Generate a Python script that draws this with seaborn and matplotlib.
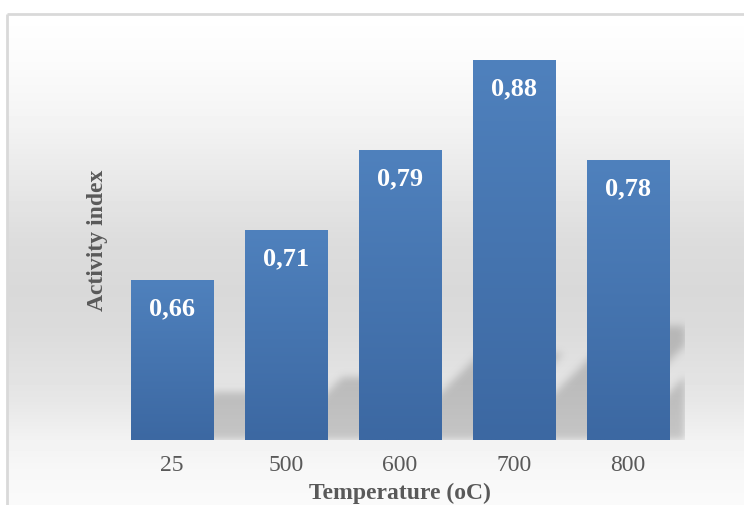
import numpy as np
import pandas as pd
import matplotlib
matplotlib.use("Agg")
import matplotlib.pyplot as plt
import seaborn as sns
from matplotlib.colors import LinearSegmentedColormap

# Data
temperatures = ["25", "500", "600", "700", "800"]
activity = [0.66, 0.71, 0.79, 0.88, 0.78]

df = pd.DataFrame({"Temperature": temperatures, "Activity": activity})

sns.set_theme(style="white")
plt.rcParams["font.family"] = ["Liberation Serif", "DejaVu Serif"]

W, H = 744, 505
fig = plt.figure(figsize=(W / 100, H / 100), dpi=100)

# Chart-area background: soft vertical grey gradient inside a thin frame
bg = fig.add_axes([0, 0, 1, 1], zorder=0)
bg.set_xlim(0, W)
bg.set_ylim(H, 0)
bg.axis("off")
stops_y = [14, 60, 120, 180, 240, 290, 330, 370, 400, 440, 470, 505]
stops_v = [1.0, 0.985, 0.955, 0.91, 0.865, 0.85, 0.86, 0.885, 0.905, 0.95, 0.97, 0.98]
col = np.interp(np.arange(H), stops_y, stops_v)
img = np.repeat(col[:, None], W, axis=1)
img[:14, :] = 1.0
img[:, :7] = 1.0
bg.imshow(img, cmap="gray", vmin=0, vmax=1, extent=(0, W, H, 0),
          aspect="auto", interpolation="bilinear")
bg.plot([7, W], [14, 14], color="#d9d9d9", lw=2, solid_capstyle="butt")
bg.plot([7, 7], [14, H], color="#d9d9d9", lw=2, solid_capstyle="butt")

# Plot area
ax_l, ax_b, ax_w, ax_h = 115, 440, 570, 400  # pixels (left, baseline, width, height)
ax = fig.add_axes([ax_l / W, (H - ax_b) / H, ax_w / W, ax_h / H], zorder=1)
ax.patch.set_alpha(0)

ymin, ymax = 0.5, 0.9
xmin, xmax = -0.5, 4.5
bar_w = 0.72

sns.barplot(data=df, x="Temperature", y="Activity", color="#4673b0",
            width=bar_w, ax=ax, zorder=3)
ax.set_xlim(xmin, xmax)
ax.set_ylim(ymin, ymax)

# Perspective drop shadows behind the bars (rasterised and blurred)
px_per_x = ax_w / (xmax - xmin)
px_per_y = ax_h / (ymax - ymin)
Xg, Yg = np.meshgrid(np.arange(ax_w) + 0.5, np.arange(ax_h) + 0.5)
shadow = np.zeros((ax_h, ax_w))
offset = 35
for i, v in enumerate(activity):
    x0 = (i - bar_w / 2 - xmin) * px_per_x
    x1 = (i + bar_w / 2 - xmin) * px_per_x
    sh = 0.3 * (v - ymin) * px_per_y
    m = (Yg <= sh) & (Xg >= x0 + offset + Yg) & (Xg <= x1 + offset + Yg)
    shadow = np.maximum(shadow, m.astype(float))
sig = 4.0
k = np.arange(-12, 13)
kern = np.exp(-k ** 2 / (2 * sig ** 2))
kern /= kern.sum()
shadow = np.apply_along_axis(lambda r: np.convolve(r, kern, mode="same"), 1, shadow)
shadow = np.apply_along_axis(lambda c: np.convolve(c, kern, mode="same"), 0, shadow)
rgba = np.zeros((ax_h, ax_w, 4))
rgba[..., :3] = 0.4
rgba[..., 3] = shadow * 0.32
ax.imshow(rgba, extent=(xmin, xmax, ymin, ymax), origin="lower",
          aspect="auto", zorder=2, interpolation="bilinear")

# Vertical gradient fill for each bar
bar_cmap = LinearSegmentedColormap.from_list("barfill", ["#3c68a2", "#4f81bd"])
grad = np.linspace(0, 1, 256).reshape(-1, 1)
for p in ax.patches:
    x0 = p.get_x()
    w = p.get_width()
    top = p.get_height()
    ax.imshow(grad, cmap=bar_cmap, extent=(x0, x0 + w, ymin, top),
              origin="lower", aspect="auto", zorder=4, interpolation="bilinear")
    p.set_visible(False)

ax.set_xlim(xmin, xmax)
ax.set_ylim(ymin, ymax)

# Value labels inside the bars
for i, v in enumerate(activity):
    ax.text(i, v - 0.029, f"{v:.2f}".replace(".", ","), ha="center", va="center",
            color="white", fontsize=19, fontweight="bold", zorder=5)

# Axes styling
for s in ax.spines.values():
    s.set_visible(False)
ax.set_yticks([])
ax.tick_params(axis="x", length=0, pad=10.5, labelsize=17, labelcolor="#595959")
ax.set_xlabel("Temperature (oC)", fontsize=17, fontweight="bold",
              color="#595959", va="center")
ax.xaxis.set_label_coords(0.5, (ax_b - 493) / ax_h)
ax.set_ylabel("Activity index", fontsize=17, fontweight="bold",
              color="#595959", va="center")
ax.yaxis.set_label_coords((98 - ax_l) / ax_w, 0.5)

fig.savefig("out.png", dpi=100)
